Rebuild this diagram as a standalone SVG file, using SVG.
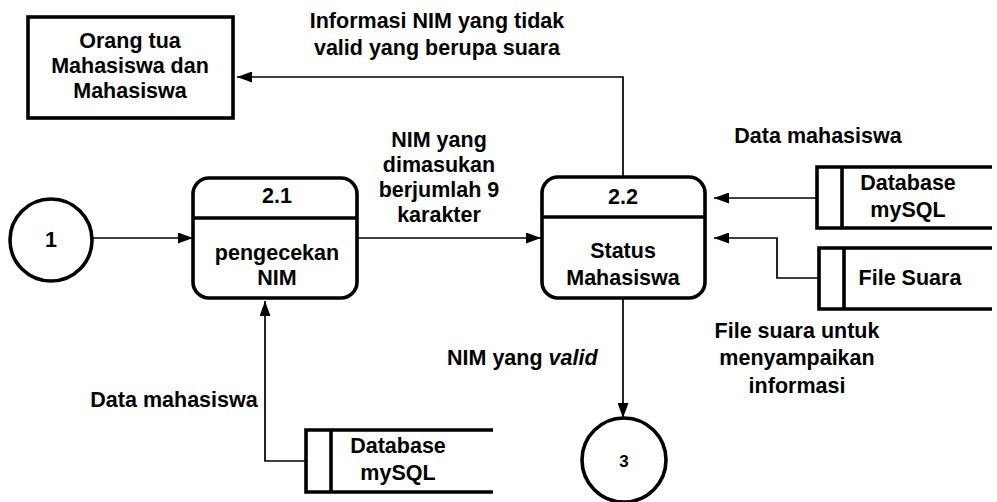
<svg xmlns="http://www.w3.org/2000/svg" width="997" height="502" viewBox="0 0 997 502">
  <style>
    .box { fill: #fff; stroke: #000; stroke-width: 3.6; }
    .thin { fill: none; stroke: #000; stroke-width: 3.6; }
    .flow { fill: none; stroke: #000; stroke-width: 1.7; marker-end: url(#arr); }
    text { font-family: "Liberation Sans", Arial, sans-serif; font-size: 21.5px; font-weight: bold; fill: #000; text-anchor: middle; }
  </style>
  <defs>
    <marker id="arr" viewBox="0 0 15 11" refX="15" refY="5.5" markerWidth="15" markerHeight="11" orient="auto" markerUnits="userSpaceOnUse">
      <path d="M0,0 L15,5.5 L0,11 z" fill="#000"/>
    </marker>
  </defs>
  <rect width="997" height="502" fill="#fff"/>

  <!-- data flows -->
  <g id="connectors">
    <path class="flow" d="M92,238 H193"/>
    <path class="flow" d="M357,238 H541"/>
    <path class="flow" d="M623,177 V77 H237"/>
    <path class="flow" d="M817,198 H714"/>
    <path class="flow" d="M819,278 H777 V238 H714"/>
    <path class="flow" d="M623,298 V418"/>
    <path class="flow" d="M306,461 H265 V301"/>
  </g>

  <!-- flow labels -->
  <g id="labels">
    <text x="437" y="28">Informasi NIM yang tidak</text>
    <text x="437" y="55">valid yang berupa suara</text>
    <text x="439" y="147">NIM yang</text>
    <text x="439" y="172">dimasukan</text>
    <text x="439" y="197">berjumlah 9</text>
    <text x="439" y="222">karakter</text>
    <text x="818" y="143">Data mahasiswa</text>
    <text x="797" y="338">File suara untuk</text>
    <text x="797" y="365">menyampaikan</text>
    <text x="797" y="393">informasi</text>
    <text x="174" y="407">Data mahasiswa</text>
    <text x="447" y="365" style="text-anchor:start">NIM yang <tspan font-style="italic">valid</tspan></text>
  </g>

  <!-- external entity -->
  <g id="orang-tua">
    <rect class="box" x="28" y="17" width="205" height="101"/>
    <text x="130" y="48">Orang tua</text>
    <text x="130" y="73">Mahasiswa dan</text>
    <text x="130" y="98">Mahasiswa</text>
  </g>

  <!-- off-page connectors -->
  <g id="conn-1">
    <circle class="box" cx="51" cy="240" r="41"/>
    <text x="51" y="247">1</text>
  </g>
  <g id="conn-3">
    <circle class="box" cx="624" cy="460" r="42"/>
    <text x="624" y="467" style="font-size:17px">3</text>
  </g>

  <!-- processes -->
  <g id="proc-2-1">
    <rect class="box" x="193" y="178" width="164" height="120" rx="16"/>
    <line class="thin" x1="193" y1="218" x2="357" y2="218"/>
    <text x="277" y="203">2.1</text>
    <text x="277" y="260">pengecekan</text>
    <text x="277" y="285">NIM</text>
  </g>
  <g id="proc-2-2">
    <rect class="box" x="542" y="177" width="163" height="121" rx="16"/>
    <line class="thin" x1="542" y1="217" x2="705" y2="217"/>
    <text x="623" y="204">2.2</text>
    <text x="623" y="258">Status</text>
    <text x="623" y="285">Mahasiswa</text>
  </g>

  <!-- data stores -->
  <g id="store-db-right">
    <path class="thin" d="M992,167 H817 V228 H992"/>
    <line class="thin" x1="842" y1="167" x2="842" y2="228"/>
    <text x="908" y="190">Database</text>
    <text x="908" y="217">mySQL</text>
  </g>
  <g id="store-file-suara">
    <path class="thin" d="M992,248 H819 V309 H992"/>
    <line class="thin" x1="844" y1="248" x2="844" y2="309"/>
    <text x="910" y="285">File Suara</text>
  </g>
  <g id="store-db-bottom">
    <path class="thin" d="M493,430 H306 V492 H493"/>
    <line class="thin" x1="331" y1="430" x2="331" y2="492"/>
    <text x="398" y="453">Database</text>
    <text x="398" y="480">mySQL</text>
  </g>
</svg>
